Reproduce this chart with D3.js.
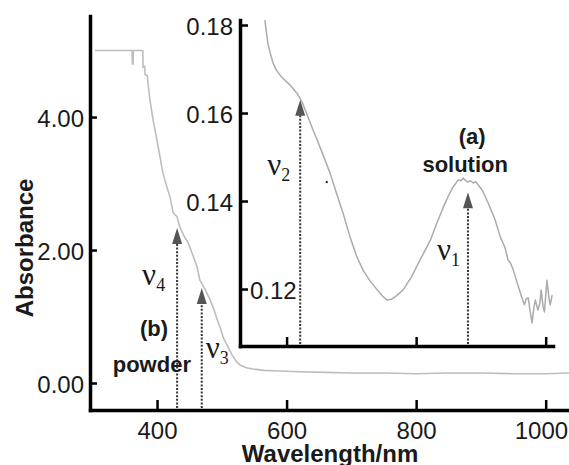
<!DOCTYPE html>
<html>
<head>
<meta charset="utf-8">
<script src="https://cdn.jsdelivr.net/npm/d3@7"></script>
<style>
  body { margin: 0; background: #fff; }
  svg { display: block; }
</style>
</head>
<body>
<script>
// powder spectrum (main panel)
var wavelength = [304, 361.5, 362, 363, 363.5, 378, 378.5, 381, 381.5, 385, 386, 389, 394, 400, 409, 416, 420, 425, 431, 435, 441, 448, 455, 462, 466, 469, 476, 482, 488, 493, 498, 502, 509, 516, 522, 528, 538, 548, 565, 590, 620, 660, 700, 750, 800, 850, 900, 950, 1000, 1036];
var absorbance = [5.00, 5.00, 4.80, 4.80, 5.00, 5.00, 4.75, 4.76, 4.64, 4.62, 4.51, 4.26, 3.95, 3.65, 3.16, 2.92, 2.80, 2.56, 2.50, 2.35, 2.22, 2.11, 1.93, 1.74, 1.55, 1.50, 1.37, 1.25, 1.10, 0.95, 0.82, 0.69, 0.55, 0.42, 0.33, 0.27, 0.23, 0.21, 0.19, 0.18, 0.17, 0.16, 0.15, 0.15, 0.14, 0.15, 0.15, 0.14, 0.14, 0.15];

// solution spectrum (inset)
var insetWavelength = [566.5, 571, 575, 579, 584, 590, 597, 605, 616, 624, 633, 641, 647, 657, 667, 677, 687, 698, 708, 718, 729, 740, 748, 755, 762, 770, 780, 793, 806, 822, 832, 842, 850, 857, 865, 869, 873, 876, 880, 884, 888, 892, 896, 902, 907, 914, 922, 930, 937, 942, 946, 950, 956, 961, 967, 970, 973, 976, 979, 982, 984, 988, 991, 993, 996, 998, 1002, 1005, 1007, 1010];
var insetAbsorbance = [0.1811, 0.1759, 0.1735, 0.1714, 0.1698, 0.1686, 0.1675, 0.1664, 0.1645, 0.1625, 0.1591, 0.1561, 0.1540, 0.1502, 0.1464, 0.1418, 0.1373, 0.1318, 0.1275, 0.1243, 0.1218, 0.1198, 0.1184, 0.1175, 0.1177, 0.1185, 0.1198, 0.1228, 0.1266, 0.1311, 0.1350, 0.1386, 0.1412, 0.1432, 0.1448, 0.1446, 0.1452, 0.1447, 0.1443, 0.1446, 0.1441, 0.1444, 0.1436, 0.1425, 0.1409, 0.1386, 0.1357, 0.1318, 0.1295, 0.1266, 0.1258, 0.1243, 0.1214, 0.1191, 0.1164, 0.1178, 0.1180, 0.1150, 0.1123, 0.1160, 0.1175, 0.1152, 0.1168, 0.1198, 0.1160, 0.1148, 0.1220, 0.1180, 0.1164, 0.1186];
var speckWavelength = [662];
var speckAbsorbance = [0.1443];

var xTickValues = [400, 600, 800, 1000];
var yTickValues = [0, 2, 4];
var insetXTickValues = [600, 800, 1000];
var insetYTickValues = [0.12, 0.14, 0.16, 0.18];

// band assignments
var bandNames = ["4", "3", "2", "1"];
var bandWavelength = [431, 469, 621, 880];
var bandTop = [2.33, 1.43, 0.163, 0.142];
var bandPanel = ["main", "main", "inset", "inset"];

var width = 569,
    height = 465;

var sans = "'Liberation Sans', Arial, Helvetica, sans-serif",
    serif = "'Liberation Serif', 'Times New Roman', serif",
    ink = "#1a1a1a";

var svg = d3.select("body").append("svg")
    .attr("width", width)
    .attr("height", height)
    .style("background", "#fff");

var x = d3.scaleLinear().domain([296.5, 1036]).range([90, 569]);
var y = d3.scaleLinear().domain([-0.406, 5.52]).range([410, 16]);

var xIn = x.copy().domain([x.invert(240), x.invert(553)]).range([240, 553]);
var yIn = d3.scaleLinear().domain([0.10705, 0.18114]).range([346, 20]);

function styleAxis(g, size) {
  g.select(".domain").attr("stroke", "#000").attr("stroke-width", 3.5).attr("stroke-linecap", "square");
  g.selectAll(".tick line").attr("stroke", "#000").attr("stroke-width", 2.5);
  g.selectAll(".tick text")
      .attr("fill", ink)
      .style("font-family", sans)
      .style("font-size", size + "px");
}

// main curve
var line = d3.line()
    .x(function(d) { return x(d[0]); })
    .y(function(d) { return y(d[1]); });

svg.append("path")
    .datum(d3.zip(wavelength, absorbance))
    .attr("fill", "none")
    .attr("stroke", "#bdbdbd")
    .attr("stroke-width", 1.6)
    .attr("d", line);

// inset curve
var insetLine = d3.line()
    .x(function(d) { return xIn(d[0]); })
    .y(function(d) { return yIn(d[1]); });

svg.append("path")
    .datum(d3.zip(insetWavelength, insetAbsorbance))
    .attr("fill", "none")
    .attr("stroke", "#ababab")
    .attr("stroke-width", 1.5)
    .attr("stroke-linejoin", "round")
    .attr("d", insetLine);

svg.selectAll(".speck")
    .data(d3.zip(speckWavelength, speckAbsorbance))
    .enter().append("rect")
    .attr("class", "speck")
    .attr("x", function(d) { return xIn(d[0]) - 1; })
    .attr("y", function(d) { return yIn(d[1]) - 1; })
    .attr("width", 2)
    .attr("height", 2)
    .attr("fill", "#222");

// main axes
var gx = svg.append("g")
    .attr("transform", "translate(0,410)")
    .call(d3.axisBottom(x).tickValues(xTickValues).tickSizeInner(-10).tickSizeOuter(0).tickPadding(12).tickFormat(d3.format("d")));
styleAxis(gx, 24);
gx.selectAll(".tick text").attr("dx", function(d) { return d === 1000 ? "-0.2em" : null; });

var gy = svg.append("g")
    .attr("transform", "translate(90,0)")
    .call(d3.axisLeft(y).tickValues(yTickValues).tickSizeInner(-7).tickSizeOuter(0).tickPadding(6).tickFormat(d3.format(".2f")));
styleAxis(gy, 24);
gy.selectAll(".tick text").attr("dy", "0.4em");

// inset axes
var ix = svg.append("g")
    .attr("transform", "translate(0,346)")
    .call(d3.axisBottom(xIn).tickValues(insetXTickValues).tickSizeInner(-9).tickSizeOuter(0).tickFormat(""));
styleAxis(ix, 24);

var iy = svg.append("g")
    .attr("transform", "translate(240,0)")
    .call(d3.axisLeft(yIn).tickValues(insetYTickValues).tickSizeInner(-8).tickSizeOuter(0).tickPadding(7).tickFormat(d3.format(".2f")));
styleAxis(iy, 24);
iy.selectAll(".tick text").attr("dy", "0.4em");
iy.selectAll(".tick")
    .filter(function(d) { return d === 0.12; })
    .select("text")
    .attr("text-anchor", "start")
    .attr("x", 10);

// band arrows
var labelDx = [-35, 4, -33, -31],
    labelDy = [57, 70, 75, 68];

bandNames.forEach(function(name, i) {
  var sx = bandPanel[i] === "main" ? x : xIn,
      sy = bandPanel[i] === "main" ? y : yIn,
      base = bandPanel[i] === "main" ? 408 : 344,
      px = sx(bandWavelength[i]),
      tip = sy(bandTop[i]);

  svg.append("line")
      .attr("x1", px).attr("x2", px)
      .attr("y1", base).attr("y2", tip + 14)
      .attr("stroke", "#333")
      .attr("stroke-width", 2)
      .attr("stroke-dasharray", "2,1.6");

  svg.append("path")
      .attr("d", "M" + px + "," + tip + "L" + (px + 5) + "," + (tip + 16) + "L" + (px - 5) + "," + (tip + 16) + "Z")
      .attr("fill", "#555");

  var t = svg.append("text")
      .attr("x", px + labelDx[i])
      .attr("y", tip + labelDy[i])
      .attr("fill", ink)
      .style("font-family", serif)
      .style("font-size", "31px");
  t.append("tspan").text("\u03bd");
  t.append("tspan").attr("dy", 6).style("font-size", "18px").text(name);
});

// panel notes
var notes = [
  { text: "(a)", s: "inset", wl: 886.5, a: 0.1530 },
  { text: "solution", s: "inset", wl: 875.7, a: 0.1466 },
  { text: "(b)", s: "main", wl: 395.4, a: 0.707 },
  { text: "powder", s: "main", wl: 392, a: 0.165 }
];

svg.selectAll(".note")
    .data(notes)
    .enter().append("text")
    .attr("class", "note")
    .attr("x", function(d) { return d.s === "main" ? x(d.wl) : xIn(d.wl); })
    .attr("y", function(d) { return d.s === "main" ? y(d.a) : yIn(d.a); })
    .attr("text-anchor", "middle")
    .attr("fill", ink)
    .style("font-family", sans)
    .style("font-weight", "bold")
    .style("font-size", "22px")
    .text(function(d) { return d.text; });

// axis titles
svg.append("text")
    .attr("transform", "translate(33,248)rotate(-90)")
    .attr("text-anchor", "middle")
    .attr("fill", ink)
    .style("font-family", sans)
    .style("font-weight", "bold")
    .style("font-size", "24px")
    .text("Absorbance");

svg.append("text")
    .attr("x", 330)
    .attr("y", 462)
    .attr("text-anchor", "middle")
    .attr("fill", ink)
    .style("font-family", sans)
    .style("font-weight", "bold")
    .style("font-size", "24px")
    .text("Wavelength/nm");
</script>
</body>
</html>
